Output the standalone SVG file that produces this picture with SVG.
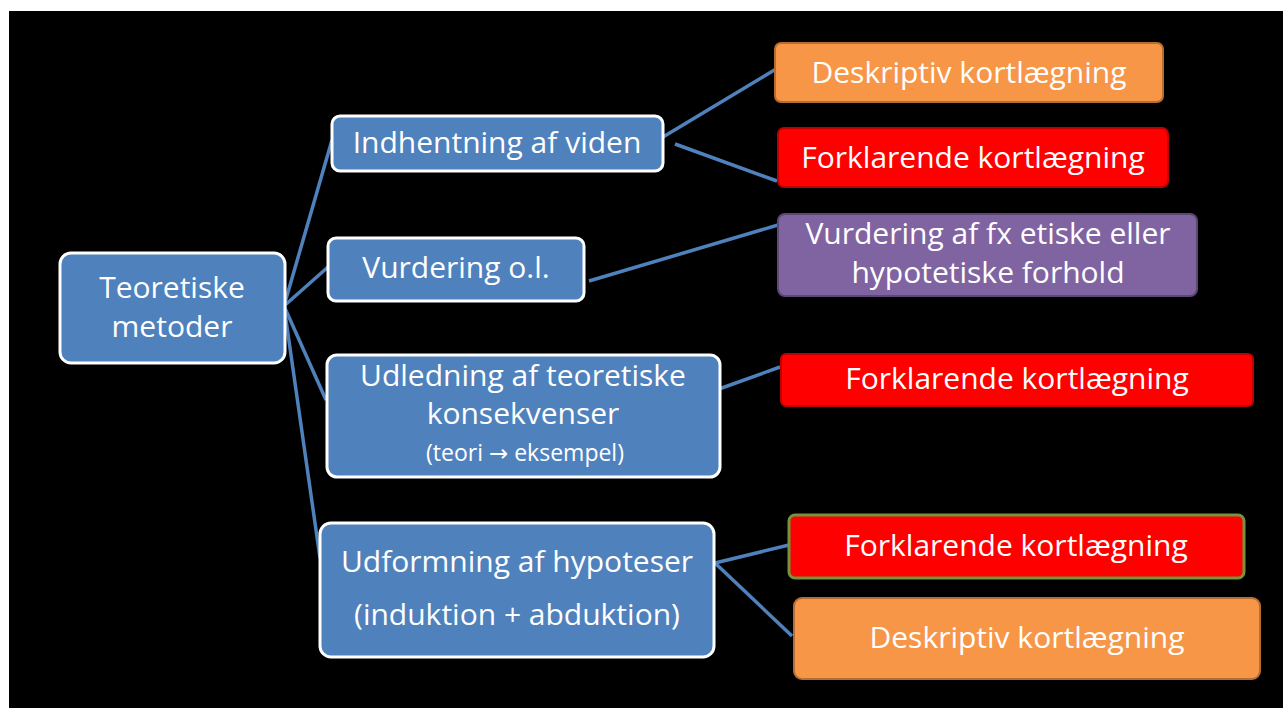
<svg xmlns="http://www.w3.org/2000/svg" width="1283" height="708" viewBox="0 0 1283 708">
<style>
  text { font-family: "Open Sans", "Liberation Sans", sans-serif; fill: #ffffff; text-anchor: middle; font-size: 30px; }
  .small { font-size: 23px; }
  .arrow { font-family: "DejaVu Sans", sans-serif; }
  .blue { fill: #4F81BD; stroke: #ffffff; stroke-width: 3; }
  .orange { fill: #F79646; stroke: #B66D31; stroke-width: 2; }
  .red { fill: #FF0000; stroke: #C00000; stroke-width: 2; }
  .redg { fill: #FF0000; stroke: #77933C; stroke-width: 3; }
  .purple { fill: #8064A2; stroke: #5C4776; stroke-width: 2; }
  .conn line { stroke: #4F81BD; stroke-width: 3.5; }
</style>
<rect x="0" y="0" width="1283" height="708" fill="#ffffff"/>
<rect x="9" y="11" width="1274" height="697" fill="#000000"/>

<g id="connectors" class="conn">
  <line x1="284" y1="306" x2="332" y2="140"/>
  <line x1="284" y1="306" x2="328" y2="267"/>
  <line x1="284" y1="306" x2="326" y2="400"/>
  <line x1="284" y1="306" x2="320" y2="558"/>
  <line x1="663" y1="137" x2="776" y2="69"/>
  <line x1="675" y1="144" x2="777" y2="181"/>
  <line x1="589" y1="281" x2="778" y2="225"/>
  <line x1="719" y1="389" x2="780" y2="367"/>
  <line x1="715" y1="563" x2="789" y2="545"/>
  <line x1="715" y1="563" x2="792" y2="636"/>
</g>

<g id="root">
  <rect class="blue" x="60" y="253" width="225" height="110" rx="11"/>
  <text x="172" y="298">Teoretiske</text>
  <text x="172" y="337">metoder</text>
</g>

<g id="indhentning">
  <rect class="blue" x="332" y="116" width="331" height="55" rx="8"/>
  <text x="497" y="153">Indhentning af viden</text>
</g>

<g id="vurdering">
  <rect class="blue" x="328" y="238" width="256" height="63" rx="8"/>
  <text x="456" y="278">Vurdering o.l.</text>
</g>

<g id="udledning">
  <rect class="blue" x="327" y="355" width="393" height="122" rx="10"/>
  <text x="523" y="386">Udledning af teoretiske</text>
  <text x="523" y="424">konsekvenser</text>
  <text class="small" x="525" y="461">(teori <tspan class="arrow">→</tspan> eksempel)</text>
</g>

<g id="udformning">
  <rect class="blue" x="320" y="523" width="394" height="134" rx="11"/>
  <text x="517" y="572">Udformning af hypoteser</text>
  <text x="517" y="625">(induktion + abduktion)</text>
</g>

<g id="deskriptiv1">
  <rect class="orange" x="775" y="43" width="388" height="59" rx="6"/>
  <text x="969" y="83">Deskriptiv kortlægning</text>
</g>

<g id="forklarende1">
  <rect class="red" x="778" y="128" width="390" height="59" rx="6"/>
  <text x="973" y="168">Forklarende kortlægning</text>
</g>

<g id="vurdering-etik">
  <rect class="purple" x="778" y="214" width="419" height="82" rx="7"/>
  <text x="988" y="244">Vurdering af fx etiske eller</text>
  <text x="988" y="283">hypotetiske forhold</text>
</g>

<g id="forklarende2">
  <rect class="red" x="781" y="354" width="472" height="52" rx="5"/>
  <text x="1017" y="389">Forklarende kortlægning</text>
</g>

<g id="forklarende3">
  <rect class="redg" x="789" y="515" width="455" height="63" rx="6"/>
  <text x="1016" y="556">Forklarende kortlægning</text>
</g>

<g id="deskriptiv2">
  <rect class="orange" x="794" y="598" width="466" height="81" rx="8"/>
  <text x="1027" y="648">Deskriptiv kortlægning</text>
</g>
</svg>
